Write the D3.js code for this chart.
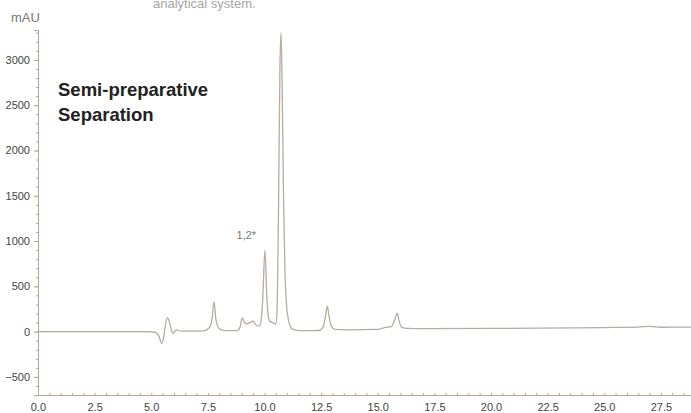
<!DOCTYPE html>
<html>
<head>
<meta charset="utf-8">
<script src="https://cdn.jsdelivr.net/npm/d3@7"></script>
<style>
  body { margin: 0; background: #fff; }
  svg { display: block; font-family: "Liberation Sans", Arial, sans-serif; }
</style>
</head>
<body>
<div id="chart"></div>
<script>
var largeur = 691;
var hauteur = 413;

// data (time in min, signal in mAU)
var temps = [0, 2.5, 4.8, 5.2, 5.35, 5.46, 5.55, 5.62, 5.71, 5.8, 5.9, 5.96, 6.05, 6.12, 6.3, 6.8,
  7.3, 7.55, 7.68, 7.77, 7.85, 7.95, 8.05, 8.3, 8.8, 8.92, 9.02, 9.12, 9.23, 9.35, 9.5, 9.6, 9.7,
  9.82, 9.92, 10.02, 10.1, 10.18, 10.24, 10.4, 10.5, 10.56, 10.62, 10.68, 10.73, 10.78, 10.84, 10.9,
  10.97, 11.04, 11.12, 11.25, 11.6, 12.4, 12.6, 12.7, 12.77, 12.85, 12.95, 13.1, 13.6, 15.0, 15.3,
  15.6, 15.75, 15.86, 15.95, 16.05, 16.3, 17, 20, 25, 26.5, 27, 27.5, 28.85];
var signal = [0, 0, 0, -10, -60, -130, -60, 60, 155, 110, 10, -20, 10, 20, 5, 5,
  8, 40, 130, 330, 140, 50, 25, 10, 10, 50, 150, 100, 85, 100, 115, 80, 60,
  80, 350, 900, 400, 150, 115, 95, 85, 250, 1400, 2900, 3300, 2700, 1500, 700,
  300, 150, 70, 25, 10, 12, 60, 180, 280, 170, 60, 25, 20, 25, 45,
  55, 130, 205, 110, 50, 35, 33, 35, 45, 50, 58, 48, 50];

var xMajeurs = [0, 2.5, 5, 7.5, 10, 12.5, 15, 17.5, 20, 22.5, 25, 27.5];
var yMajeurs = [-500, 0, 500, 1000, 1500, 2000, 2500, 3000];

var donnees = temps.map(function (t, i) { return {t: t, v: signal[i]}; });

var svg = d3.select("#chart")
  .append("svg")
    .attr("width", largeur)
    .attr("height", hauteur);

var x = d3.scaleLinear()
  .domain([0, 28.83])
  .range([38, 691]);
var y = d3.scaleLinear()
  .domain([-700, 3330])
  .range([395, 30]);

var couleurAxe = "#b9a88e";

// texte coupé en haut de la page
svg.append("text")
  .attr("x", 153).attr("y", 8)
  .attr("font-size", "13px")
  .attr("fill", "#a5a5a5")
  .text("analytical system.");

svg.append("text")
  .attr("x", 11).attr("y", 22)
  .attr("font-size", "13px")
  .attr("fill", "#777")
  .text("mAU");

// axes
var xMineurs = d3.range(0, 28.6, 0.5);
var yMineurs = d3.range(-700, 3301, 100);

var yMin = svg.append("g")
  .attr("transform", "translate(38,0)")
  .call(d3.axisLeft(y).tickValues(yMineurs).tickSize(2).tickFormat(""));
var yAxe = svg.append("g")
  .attr("transform", "translate(38,0)")
  .call(d3.axisLeft(y).tickValues(yMajeurs).tickSize(4).tickPadding(4).tickFormat(d3.format("d")));

var xMin = svg.append("g")
  .attr("transform", "translate(0,395)")
  .call(d3.axisTop(x).tickValues(xMineurs).tickSize(2).tickFormat(""));
var xAxe = svg.append("g")
  .attr("transform", "translate(0,395)")
  .call(d3.axisBottom(x).tickValues(xMajeurs).tickSize(0).tickPadding(8).tickFormat(d3.format(".1f")));

[yMin, yAxe, xMin, xAxe].forEach(function (g) {
  g.select(".domain").attr("stroke", couleurAxe);
  g.selectAll(".tick line").attr("stroke", couleurAxe);
  g.selectAll(".tick text").attr("fill", "#444").attr("font-size", "11px")
    .attr("font-family", "Liberation Sans, Arial, sans-serif");
});

// ligne de base à 0
svg.append("line")
  .attr("x1", x(0)).attr("x2", x(5))
  .attr("y1", y(0)).attr("y2", y(0))
  .attr("stroke", couleurAxe).attr("stroke-width", 1);

// tracé
var ligne = d3.line()
  .x(function (d) { return x(d.t); })
  .y(function (d) { return y(d.v); })
  .curve(d3.curveMonotoneX);

svg.append("path")
  .datum(donnees)
  .attr("d", ligne)
  .attr("fill", "none")
  .attr("stroke", "#b3ada3")
  .attr("stroke-width", 1.3);

// titre
svg.append("text")
  .attr("x", 58).attr("y", 96)
  .attr("font-size", "18.5px").attr("font-weight", "bold")
  .attr("fill", "#222")
  .text("Semi-preparative");
svg.append("text")
  .attr("x", 58).attr("y", 121)
  .attr("font-size", "18.5px").attr("font-weight", "bold")
  .attr("fill", "#222")
  .text("Separation");

// étiquette du pic
svg.append("text")
  .attr("x", x(9.2)).attr("y", 239)
  .attr("text-anchor", "middle")
  .attr("font-size", "11px")
  .attr("fill", "#777")
  .text("1,2*");
</script>
</body>
</html>
